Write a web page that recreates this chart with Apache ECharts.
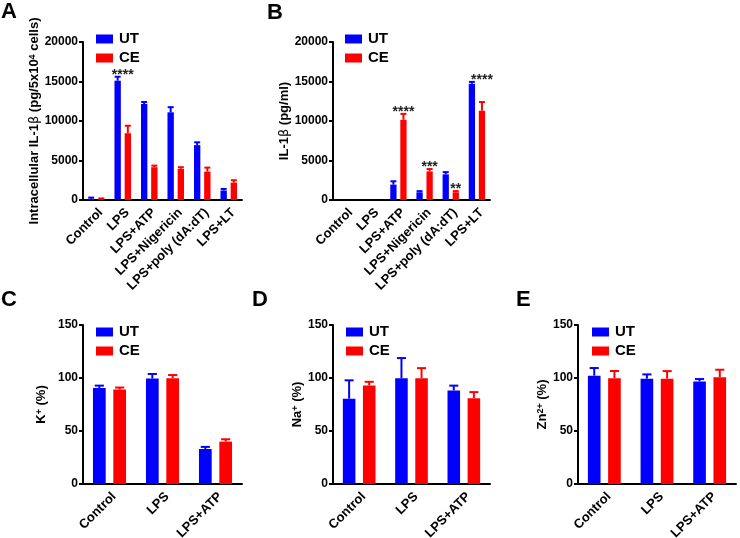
<!DOCTYPE html>
<html>
<head>
<meta charset="utf-8">
<script src="https://cdn.jsdelivr.net/npm/echarts@6/dist/echarts.min.js"></script>
<style>html,body{margin:0;padding:0;background:#fff}#c{width:740px;height:538px}</style>
</head>
<body>
<div id="c"></div>
<script>
// ---------- data ----------
const catsTop = ['Control', 'LPS', 'LPS+ATP', 'LPS+Nigericin', 'LPS+poly (dA:dT)', 'LPS+LT'];
const catsBottom = ['Control', 'LPS', 'LPS+ATP'];
const seriesNames = ['UT', 'CE'];
const yTicksTop = [0, 5000, 10000, 15000, 20000];
const yTicksBottom = [0, 50, 100, 150];

// Panel A: intracellular IL-1beta
const aUT = [150, 15100, 12150, 11100, 6950, 1200];
const aUTerr = [150, 500, 250, 650, 350, 200];
const aCE = [100, 8450, 4150, 3950, 3600, 2200];
const aCEerr = [100, 950, 200, 200, 500, 300];
const aStars = ['', '****', '', '', '', ''];

// Panel B: secreted IL-1beta
const bUT = [0, 0, 1950, 970, 3250, 14700];
const bUTerr = [0, 0, 420, 150, 280, 250];
const bCE = [0, 0, 10150, 3620, 980, 11300];
const bCEerr = [0, 0, 750, 300, 150, 1100];
const bStars = ['', '', '****', '***', '**', '****'];

// Panel C: K+
const cUT = [90.5, 99.5, 33];
const cUTerr = [2.3, 4.3, 2];
const cCE = [89.2, 99.8, 40];
const cCEerr = [1.8, 3, 2.2];

// Panel D: Na+
const dUT = [80.5, 99.8, 88.3];
const dUTerr = [17.3, 19, 4.5];
const dCE = [93, 99.8, 81];
const dCEerr = [3.4, 9.5, 5.7];

// Panel E: Zn2+
const eUT = [102.2, 99.4, 96.8];
const eUTerr = [7.2, 4, 2.2];
const eCE = [99.8, 99.4, 100.8];
const eCEerr = [6.8, 7.1, 7];

// ---------- styling helpers ----------
const FONT = "'Liberation Sans', Arial, sans-serif";
const BLUE = '#0000ff', RED = '#ff0000';
const BAR_FRAC = 0.24, GAP_FRAC = 0.6;

const grids = [
  { left: 83, top: 42, width: 159, height: 158 },
  { left: 333, top: 42, width: 157, height: 158 },
  { left: 83, top: 325, width: 159, height: 159 },
  { left: 333, top: 325, width: 157, height: 159 },
  { left: 578, top: 325, width: 158, height: 159 }
].map(g => Object.assign({ outerBoundsMode: 'none', containLabel: false }, g));

function xAxis(gi, cats) {
  return {
    type: 'category', gridIndex: gi, data: cats,
    axisLine: { lineStyle: { color: '#000', width: 2 } },
    axisTick: { alignWithLabel: true, length: 4, lineStyle: { color: '#000', width: 2 } },
    axisLabel: { rotate: 45, interval: 0, fontSize: 13, fontWeight: 'bold', color: '#000', margin: 6, verticalAlign: 'top', fontFamily: FONT, hideOverlap: false },
    splitLine: { show: false }
  };
}
function yAxis(gi, ticks, name, gap) {
  return {
    type: 'value', gridIndex: gi,
    min: ticks[0], max: ticks[ticks.length - 1], interval: ticks[1] - ticks[0],
    splitLine: { show: false },
    axisLine: { show: true, lineStyle: { color: '#000', width: 2 } },
    axisTick: { show: true, length: 4, lineStyle: { color: '#000', width: 2 } },
    axisLabel: { fontSize: 12, fontWeight: 'bold', color: '#000', margin: 5, fontFamily: FONT, formatter: v => String(v) },
    name: name, nameLocation: 'middle', nameGap: gap, nameRotate: 90,
    nameTextStyle: {
      fontSize: 13, fontWeight: 'bold', color: '#000', fontFamily: FONT,
      rich: {
        sup: { fontSize: 9, fontWeight: 'bold', color: '#000', fontFamily: FONT, verticalAlign: 'top', lineHeight: 10 },
        b: { fontSize: 13, fontWeight: 'normal', color: '#000', fontFamily: "'DejaVu Sans', sans-serif" }
      }
    }
  };
}
function barSeries(gi, name, vals, color) {
  return {
    type: 'bar', name: name, xAxisIndex: gi, yAxisIndex: gi, data: vals,
    barWidth: (BAR_FRAC * 100) + '%', barGap: (GAP_FRAC * 100) + '%',
    itemStyle: { color: color }, silent: true
  };
}
function errSeries(gi, name, vals, errs, color, side) {
  return {
    type: 'custom', name: name, xAxisIndex: gi, yAxisIndex: gi, silent: true, z: 3,
    data: vals.map((v, i) => [i, v, errs[i]]),
    renderItem: function (params, api) {
      const cat = api.value(0), m = api.value(1), e = api.value(2);
      if (!(e > 0)) return null;
      const cw = api.size([1, 0])[0];
      const bw = cw * BAR_FRAC;
      const x = api.coord([cat, m])[0] + side * (0.5 + GAP_FRAC / 2) * bw;
      const y0 = api.coord([cat, m])[1];
      const y1 = api.coord([cat, m + e])[1];
      const half = Math.max(3, bw * 0.36);
      const st = { stroke: color, lineWidth: 2 };
      return {
        type: 'group', children: [
          { type: 'line', shape: { x1: x, y1: y0, x2: x, y2: y1 }, style: st },
          { type: 'line', shape: { x1: x - half, y1: y1, x2: x + half, y2: y1 }, style: st }
        ]
      };
    }
  };
}
function starSeries(gi, stars, ut, utErr, ce, ceErr, anchor) {
  return {
    type: 'custom', xAxisIndex: gi, yAxisIndex: gi, silent: true, z: 4,
    data: stars.map((s, i) => [i, Math.max(ut[i] + utErr[i], ce[i] + ceErr[i]), ce[i] + ceErr[i], s.length]),
    renderItem: function (params, api) {
      const i = api.value(0);
      const s = stars[i];
      if (!s) return null;
      const cw = api.size([1, 0])[0];
      const bw = cw * BAR_FRAC;
      const top = s.length >= 4 ? api.value(1) : api.value(2);
      let x = api.coord([i, top])[0];
      if (anchor === 'CE') x += (0.5 + GAP_FRAC / 2) * bw;
      const y = api.coord([i, top])[1] - 2;
      return {
        type: 'text',
        style: { text: s, x: x, y: y, textAlign: 'center', textVerticalAlign: 'middle', font: 'bold 14px ' + FONT, fill: '#222' }
      };
    }
  };
}
function legend(left, top) {
  return {
    data: seriesNames, orient: 'vertical', left: left, top: top, padding: 0,
    itemWidth: 17, itemHeight: 9, itemGap: 3, icon: 'rect', selectedMode: false,
    textStyle: { fontSize: 15, fontWeight: 'bold', color: '#000', fontFamily: FONT, lineHeight: 16, padding: [0, 0, 0, 1] }
  };
}
function letter(t, left, top) {
  return { text: t, left: left, top: top, padding: 0, textStyle: { fontSize: 22, fontWeight: 'bold', color: '#000', fontFamily: FONT } };
}

const option = {
  animation: false,
  backgroundColor: '#fff',
  title: [letter('A', 1, 1), letter('B', 267, 2), letter('C', 1, 289), letter('D', 252, 289), letter('E', 516, 289)],
  legend: [legend(96, 31), legend(345, 31), legend(96, 324), legend(346, 324), legend(592, 324)],
  grid: grids,
  xAxis: [xAxis(0, catsTop), xAxis(1, catsTop), xAxis(2, catsBottom), xAxis(3, catsBottom), xAxis(4, catsBottom)],
  yAxis: [
    yAxis(0, yTicksTop, 'Intracellular IL-1{b|β} (pg/5x10{sup|4} cells)', 42),
    yAxis(1, yTicksTop, 'IL-1{b|β} (pg/ml)', 42),
    yAxis(2, yTicksBottom, 'K{sup|+} (%)', 35),
    yAxis(3, yTicksBottom, 'Na{sup|+} (%)', 26),
    yAxis(4, yTicksBottom, 'Zn{sup|2+} (%)', 24)
  ],
  series: [
    barSeries(0, 'UT', aUT, BLUE), barSeries(0, 'CE', aCE, RED),
    errSeries(0, 'UT', aUT, aUTerr, BLUE, -1), errSeries(0, 'CE', aCE, aCEerr, RED, 1),
    starSeries(0, aStars, aUT, aUTerr, aCE, aCEerr, 'center'),
    barSeries(1, 'UT', bUT, BLUE), barSeries(1, 'CE', bCE, RED),
    errSeries(1, 'UT', bUT, bUTerr, BLUE, -1), errSeries(1, 'CE', bCE, bCEerr, RED, 1),
    starSeries(1, bStars, bUT, bUTerr, bCE, bCEerr, 'CE'),
    barSeries(2, 'UT', cUT, BLUE), barSeries(2, 'CE', cCE, RED),
    errSeries(2, 'UT', cUT, cUTerr, BLUE, -1), errSeries(2, 'CE', cCE, cCEerr, RED, 1),
    barSeries(3, 'UT', dUT, BLUE), barSeries(3, 'CE', dCE, RED),
    errSeries(3, 'UT', dUT, dUTerr, BLUE, -1), errSeries(3, 'CE', dCE, dCEerr, RED, 1),
    barSeries(4, 'UT', eUT, BLUE), barSeries(4, 'CE', eCE, RED),
    errSeries(4, 'UT', eUT, eUTerr, BLUE, -1), errSeries(4, 'CE', eCE, eCEerr, RED, 1)
  ]
};
const chart = echarts.init(document.getElementById('c'), null, { renderer: 'canvas' });
chart.setOption(option);
</script>
</body>
</html>
